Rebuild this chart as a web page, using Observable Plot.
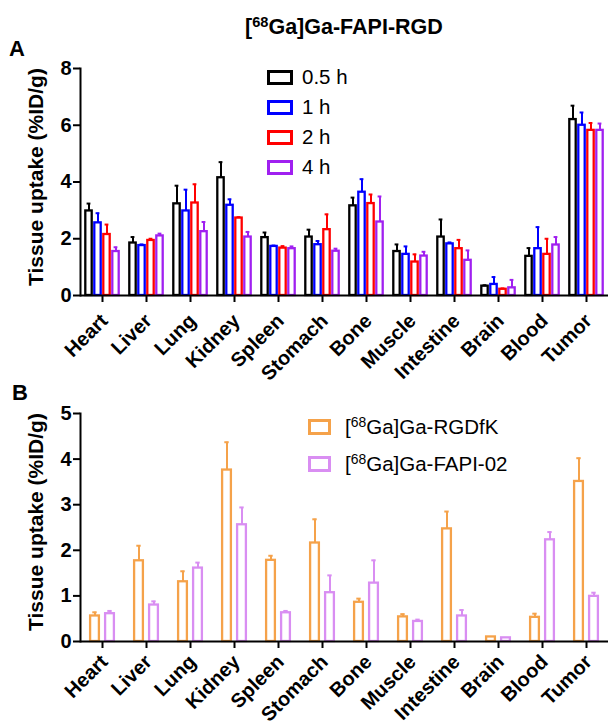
<!DOCTYPE html>
<html>
<head>
<meta charset="utf-8">
<script src="https://cdn.jsdelivr.net/npm/d3@7"></script>
<script src="https://cdn.jsdelivr.net/npm/@observablehq/plot@0.6"></script>
<style>
html, body { margin: 0; padding: 0; background: #fff; overflow: hidden; }
#wrap { position: relative; width: 613px; height: 727px; font-family: "Liberation Sans", Arial, sans-serif; color: #000; overflow: hidden; }
.abs { position: absolute; line-height: 1; white-space: nowrap; }
.title { font-weight: bold; font-size: 21.5px; }
.panel { font-weight: bold; font-size: 22px; }
.ylab { font-weight: bold; font-size: 21px; transform: translate(-50%, -50%) rotate(-90deg); }
.leg { font-size: 20.5px; }
.box { position: absolute; box-sizing: border-box; background: #fff; }
sup { font-size: 0.68em; line-height: 0; vertical-align: 0.5em; }
</style>
</head>
<body>
<div id="wrap">
  <div id="plotA" class="abs" style="left:0;top:0"></div>
  <div id="plotB" class="abs" style="left:0;top:395px"></div>
  <div class="abs title" style="left:245px;top:17px">[<sup>68</sup>Ga]Ga-FAPI-RGD</div>
  <div class="abs panel" style="left:9px;top:38px">A</div>
  <div class="abs panel" style="left:12px;top:382px">B</div>
  <div class="abs ylab" style="left:35px;top:177px">Tissue uptake (%ID/g)</div>
  <div class="abs ylab" style="left:35px;top:522px">Tissue uptake (%ID/g)</div>
  <div id="legA"></div>
  <div id="legB"></div>
</div>
<script>
// ---- data ----
const organs = ["Heart","Liver","Lung","Kidney","Spleen","Stomach","Bone","Muscle","Intestine","Brain","Blood","Tumor"];

// Panel A: [68Ga]Ga-FAPI-RGD at four time points (mean, SD)
const timesA = ["0.5 h","1 h","2 h","4 h"];
const colorsA = ["#000000","#0000ff","#ff0000","#a020f0"];
const a05    = [2.98,1.85,3.23,4.15,2.04,2.06,3.16,1.55,2.06,0.33,1.38,6.20];
const a05Err = [0.26,0.21,0.64,0.55,0.18,0.26,0.29,0.25,0.62,0.03,0.29,0.49];
const a1     = [2.56,1.76,2.98,3.18,1.73,1.79,3.64,1.45,1.82,0.39,1.65,6.00];
const a1Err  = [0.34,0.04,0.75,0.21,0.03,0.13,0.46,0.28,0.05,0.26,0.76,0.45];
const a2     = [2.15,1.94,3.26,2.73,1.67,2.32,3.24,1.18,1.65,0.22,1.45,5.82];
const a2Err  = [0.35,0.06,0.66,0.03,0.07,0.54,0.32,0.27,0.31,0.03,0.55,0.26];
const a4     = [1.55,2.10,2.25,2.06,1.65,1.56,2.59,1.39,1.24,0.27,1.78,5.82];
const a4Err  = [0.15,0.08,0.34,0.18,0.08,0.09,0.90,0.15,0.35,0.28,0.28,0.24];
const ticksA = [0,2,4,6,8];

// Panel B: comparison tracers (mean, SD)
const tracersB = ["RGDfK","FAPI-02"];
const colorsB = ["#f5a24a","#d98ef2"];
const rgd     = [0.56,1.77,1.31,3.76,1.78,2.16,0.86,0.54,2.47,0.10,0.53,3.51];
const rgdErr  = [0.08,0.33,0.23,0.61,0.10,0.52,0.08,0.06,0.38,0.00,0.08,0.51];
const fapi    = [0.61,0.80,1.61,2.56,0.63,1.07,1.28,0.44,0.56,0.08,2.23,0.99];
const fapiErr = [0.06,0.08,0.12,0.38,0.04,0.38,0.50,0.04,0.13,0.00,0.17,0.08];
const ticksB = [0,1,2,3,4,5];

// ---- tables ----
function table(series, vals, errs) {
  const rows = [];
  series.forEach((s, i) => organs.forEach((o, j) => rows.push({organ: o, series: s, value: vals[i][j], hi: vals[i][j] + errs[i][j], err: errs[i][j]})));
  return rows;
}
const rowsA = table(timesA, [a05, a1, a2, a4], [a05Err, a1Err, a2Err, a4Err]);
const rowsB = table(tracersB, [rgd, fapi], [rgdErr, fapiErr]);

function chart({rows, series, colors, ticks, yMax, height, marginTop, marginBottom, xPadIn, xPadOut, barInset, capInset, labelDy}) {
  const errRows = rows.filter(d => d.err > 0);
  return Plot.plot({
    width: 613,
    height,
    marginLeft: 75,
    marginRight: 0,
    marginTop,
    marginBottom,
    style: {fontFamily: "'Liberation Sans', Arial, sans-serif", fontWeight: "bold", background: "white", color: "black", overflow: "visible"},
    fx: {domain: organs, paddingInner: 0, paddingOuter: 0},
    x: {domain: series, paddingInner: xPadIn, paddingOuter: xPadOut, axis: null},
    y: {domain: [0, yMax]},
    color: {domain: series, range: colors},
    marks: [
      Plot.frame({anchor: "left", facetAnchor: "left", strokeWidth: 2}),
      Plot.axisY({ticks, tickFormat: d => String(d), tickSize: 7, tickPadding: 2, strokeWidth: 2, fontSize: 20, fontWeight: "bold", label: null}),
      Plot.axisFx({anchor: "bottom", tickSize: 7, strokeWidth: 2, tickFormat: () => "", label: null}),
      Plot.text(organs, {fx: d => d, text: d => d, frameAnchor: "bottom", rotate: -45, textAnchor: "end", lineAnchor: "middle",
        dx: 2, dy: labelDy, fontSize: 20, fontWeight: "bold", fill: "black"}),
      Plot.barY(rows, {fx: "organ", x: "series", y: "value", fill: "white", stroke: "series", strokeWidth: 2.3, insetLeft: barInset, insetRight: barInset}),
      Plot.ruleX(errRows, {fx: "organ", x: "series", y1: "value", y2: "hi", stroke: "series", strokeWidth: 2}),
      Plot.tickY(errRows, {fx: "organ", x: "series", y: "hi", stroke: "series", strokeWidth: 2, insetLeft: capInset, insetRight: capInset}),
      Plot.ruleY([0], {strokeWidth: 2})
    ]
  });
}

document.getElementById("plotA").append(chart({
  rows: rowsA, series: timesA, colors: colorsA, ticks: ticksA, yMax: 8,
  height: 395, marginTop: 68, marginBottom: 100, xPadIn: 0, xPadOut: 0.3, barInset: 1.3, capInset: 2.6, labelDy: 22
}));
document.getElementById("plotB").append(chart({
  rows: rowsB, series: tracersB, colors: colorsB, ticks: ticksB, yMax: 5,
  height: 332, marginTop: 18, marginBottom: 86, xPadIn: 0.256, xPadOut: 0.57, barInset: 1.1, capInset: 3.3, labelDy: 17
}));

// ---- legends ----
function legend(id, labels, colors, {boxLeft, boxW, boxH, textLeft, centers, html}) {
  const el = document.getElementById(id);
  labels.forEach((lab, i) => {
    const b = document.createElement("div");
    b.className = "box";
    b.style.cssText = `left:${boxLeft}px;top:${centers[i] - boxH / 2}px;width:${boxW}px;height:${boxH}px;border:3px solid ${colors[i]}`;
    el.append(b);
    const t = document.createElement("div");
    t.className = "abs leg";
    t.style.cssText = `left:${textLeft}px;top:${centers[i] - 10}px`;
    t.innerHTML = html ? html[i] : lab;
    el.append(t);
  });
}
legend("legA", timesA, colorsA, {boxLeft: 267, boxW: 26, boxH: 15, textLeft: 302, centers: [77, 107, 137, 167]});
legend("legB", tracersB, colorsB, {boxLeft: 308, boxW: 23, boxH: 16, textLeft: 345, centers: [426.5, 463.5],
  html: ["[<sup>68</sup>Ga]Ga-RGDfK", "[<sup>68</sup>Ga]Ga-FAPI-02"]});
</script>
</body>
</html>
